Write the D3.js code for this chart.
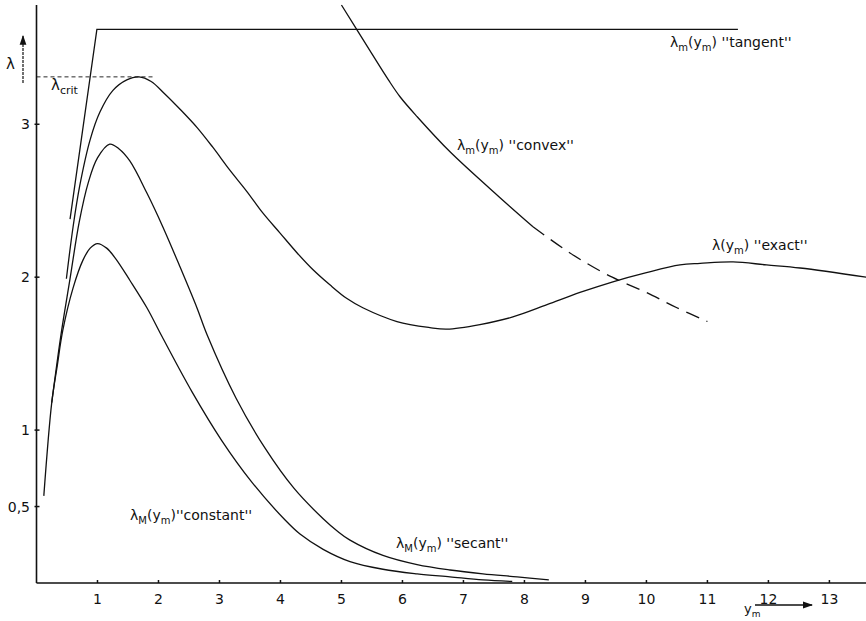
<!DOCTYPE html>
<html>
<head>
<meta charset="utf-8">
<script src="https://cdn.jsdelivr.net/npm/d3@7"></script>
<style>
  body { margin: 0; background: #fff; }
  svg text { font-family: "DejaVu Sans", sans-serif; fill: #111; }
</style>
</head>
<body>
<script>
// data (y_m, lambda)
var xTicks = [1, 2, 3, 4, 5, 6, 7, 8, 9, 10, 11, 12, 13];
var yTicks = [0.5, 1, 2, 3];
var yTickLabels = ["0,5", "1", "2", "3"];
var lambdaCrit = 3.31;

var tangent = [[0.55, 2.38], [0.99, 3.62], [11.5, 3.62]];
var exact = [[0.49, 1.99], [0.6, 2.33], [0.71, 2.6], [0.88, 2.9], [1.04, 3.08], [1.25, 3.22],
  [1.48, 3.29], [1.68, 3.31], [1.88, 3.28], [2.1, 3.2], [2.35, 3.1], [2.63, 2.98], [2.89, 2.85],
  [3.17, 2.7], [3.45, 2.56], [3.71, 2.42], [3.99, 2.29], [4.27, 2.16], [4.53, 2.05], [4.81, 1.95],
  [5.09, 1.86], [5.35, 1.8], [5.91, 1.71], [6.45, 1.67], [6.73, 1.66], [7.27, 1.69], [7.81, 1.74],
  [8.37, 1.82], [8.91, 1.9], [9.45, 1.97], [10.0, 2.03], [10.55, 2.08], [10.88, 2.09], [11.42, 2.1],
  [11.97, 2.08], [12.52, 2.06], [13.61, 2.0]];
var secant = [[0.25, 1.18], [0.4, 1.62], [0.55, 1.99], [0.7, 2.36], [0.85, 2.62], [1.0, 2.78],
  [1.2, 2.87], [1.35, 2.84], [1.53, 2.76], [1.81, 2.55], [2.07, 2.33], [2.35, 2.07], [2.63, 1.8],
  [2.8, 1.62], [3.27, 1.21], [3.75, 0.88], [4.22, 0.62], [4.7, 0.42], [4.93, 0.34], [5.14, 0.28],
  [5.68, 0.18], [6.24, 0.12], [6.78, 0.085], [7.32, 0.06], [7.88, 0.04], [8.4, 0.02]];
var constant = [[0.12, 0.57], [0.25, 1.18], [0.34, 1.42], [0.43, 1.65], [0.6, 1.93], [0.76, 2.11],
  [0.88, 2.19], [1.0, 2.22], [1.15, 2.19], [1.3, 2.12], [1.53, 1.98], [1.81, 1.8], [2.06, 1.61],
  [2.55, 1.25], [3.04, 0.93], [3.53, 0.66], [4.08, 0.41], [4.32, 0.32], [4.7, 0.22], [5.14, 0.14],
  [5.68, 0.09], [6.24, 0.06], [6.78, 0.04], [7.32, 0.02], [7.8, 0.01]];
var convex = [[5.0, 3.78], [5.5, 3.46], [5.77, 3.29], [5.96, 3.18], [6.24, 3.05], [6.78, 2.82],
  [7.6, 2.52], [8.14, 2.33], [8.74, 2.16], [9.29, 2.03], [9.6, 1.97], [10.0, 1.9], [10.5, 1.8], [11.0, 1.71]];
var convexDashFrom = 8.14;

var W = 866, H = 621;
var x = d3.scaleLinear().domain([0, 13.6]).range([36.5, 866]);
var y = d3.scaleLinear().domain([0, 3.78]).range([583, 5]);

var svg = d3.select("body").append("svg")
  .attr("width", W).attr("height", H);

var line = d3.line()
  .x(function(d) { return x(d[0]); })
  .y(function(d) { return y(d[1]); });

// axes
svg.append("line").attr("x1", x(0)).attr("x2", x(0)).attr("y1", y(3.78)).attr("y2", y(0))
  .attr("stroke", "#111").attr("stroke-width", 1.6);
svg.append("line").attr("x1", x(0)).attr("x2", W).attr("y1", y(0)).attr("y2", y(0))
  .attr("stroke", "#111").attr("stroke-width", 1.6);

svg.selectAll(".xt").data(xTicks).enter().append("line")
  .attr("x1", function(d) { return x(d); }).attr("x2", function(d) { return x(d); })
  .attr("y1", y(0) - 3).attr("y2", y(0))
  .attr("stroke", "#111").attr("stroke-width", 1.5);
svg.selectAll(".xl").data(xTicks).enter().append("text")
  .attr("x", function(d) { return x(d); }).attr("y", y(0) + 21)
  .attr("text-anchor", "middle").attr("font-size", 14)
  .text(function(d) { return d; });

svg.selectAll(".yt").data(yTicks).enter().append("line")
  .attr("x1", x(0) - 2).attr("x2", x(0) + 3)
  .attr("y1", function(d) { return y(d); }).attr("y2", function(d) { return y(d); })
  .attr("stroke", "#111").attr("stroke-width", 1.5);
svg.selectAll(".yl").data(yTicks).enter().append("text")
  .attr("x", 30).attr("y", function(d) { return y(d) + 5; })
  .attr("text-anchor", "end").attr("font-size", 14)
  .text(function(d, i) { return yTickLabels[i]; });

// axis arrows
svg.append("defs").append("marker").attr("id", "ah")
  .attr("viewBox", "0 0 10 10").attr("refX", 9).attr("refY", 5)
  .attr("markerWidth", 8).attr("markerHeight", 8).attr("orient", "auto")
  .append("path").attr("d", "M0,1.5 L10,5 L0,8.5 z").attr("fill", "#111");

svg.append("line").attr("x1", 23).attr("x2", 23).attr("y1", 83).attr("y2", 36)
  .attr("stroke", "#111").attr("stroke-width", 1.2).attr("stroke-dasharray", "3,1")
  .attr("marker-end", "url(#ah)");
svg.append("text").attr("x", 6).attr("y", 69).attr("font-size", 15).text("λ");

svg.append("line").attr("x1", 755).attr("x2", 812).attr("y1", 605).attr("y2", 605)
  .attr("stroke", "#111").attr("stroke-width", 1.3).attr("marker-end", "url(#ah)");
var xl = svg.append("text").attr("x", 744).attr("y", 613).attr("font-size", 13);
xl.append("tspan").text("y");
xl.append("tspan").attr("dy", 4).attr("font-size", 9).text("m");

// lambda crit
svg.append("line").attr("x1", x(0)).attr("x2", x(1.95)).attr("y1", y(lambdaCrit)).attr("y2", y(lambdaCrit))
  .attr("stroke", "#111").attr("stroke-width", 0.9).attr("stroke-dasharray", "4,3");
var lc = svg.append("text").attr("x", 51).attr("y", 90).attr("font-size", 15);
lc.append("tspan").text("λ");
lc.append("tspan").attr("dy", 4).attr("font-size", 11).text("crit");

// curves
function curve(data, dash, straight) {
  line.curve(straight ? d3.curveLinear : d3.curveCatmullRom.alpha(0.5));
  svg.append("path").datum(data)
    .attr("d", line)
    .attr("fill", "none").attr("stroke", "#111").attr("stroke-width", 1.3)
    .attr("stroke-dasharray", dash || null);
}
curve(tangent, null, true);
curve(exact);
curve(secant);
curve(constant);
curve(convex.filter(function(d) { return d[0] <= convexDashFrom; }));
curve(convex.filter(function(d) { return d[0] >= convexDashFrom; }), "14,8");

// labels
function label(px, py, main, sub1, mid, sub2, tail) {
  var t = svg.append("text").attr("x", px).attr("y", py).attr("font-size", 14);
  t.append("tspan").text(main);
  if (sub1) t.append("tspan").attr("dy", 4).attr("font-size", 10).text(sub1);
  t.append("tspan").attr("dy", sub1 ? -4 : 0).text(mid);
  t.append("tspan").attr("dy", 4).attr("font-size", 10).text(sub2);
  t.append("tspan").attr("dy", -4).text(tail);
}
label(670, 47, "λ", "m", "(y", "m", ")  ''tangent''");
label(457, 150, "λ", "m", "(y", "m", ") ''convex''");
label(712, 250, "λ", null, "(y", "m", ")  ''exact''");
label(396, 548, "λ", "M", "(y", "m", ")  ''secant''");
label(130, 520, "λ", "M", "(y", "m", ")''constant''");
</script>
</body>
</html>
